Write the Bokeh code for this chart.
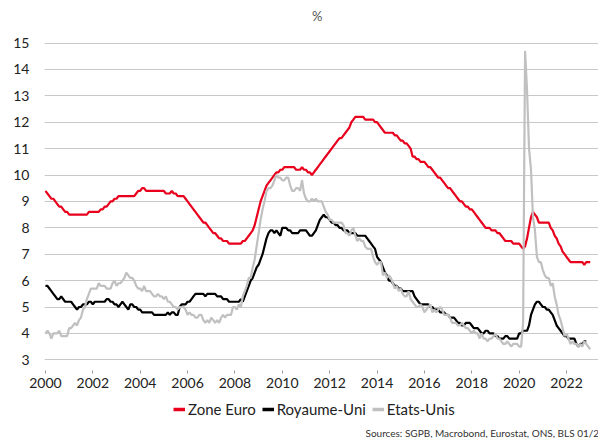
from bokeh.plotting import figure
from bokeh.layouts import column
from bokeh.models import Range1d, FixedTicker, Label, Legend, LegendItem
from bokeh.embed import file_html
from bokeh.resources import INLINE

start_year = 2000

# Unemployment rate, % (monthly, from Jan 2000)
zone_euro = [
    9.4, 9.3, 9.2, 9.1, 9.1, 9.0, 8.9, 8.8, 8.8, 8.7, 8.6, 8.6,        # 2000
    8.5, 8.5, 8.5, 8.5, 8.5, 8.5, 8.5, 8.5, 8.5, 8.5, 8.6, 8.6,        # 2001
    8.6, 8.6, 8.6, 8.6, 8.7, 8.7, 8.8, 8.8, 8.9, 9.0, 9.0, 9.1,        # 2002
    9.1, 9.2, 9.2, 9.2, 9.2, 9.2, 9.2, 9.2, 9.2, 9.2, 9.3, 9.4,        # 2003
    9.4, 9.5, 9.5, 9.4, 9.4, 9.4, 9.4, 9.4, 9.4, 9.4, 9.4, 9.4,        # 2004
    9.4, 9.3, 9.3, 9.3, 9.4, 9.3, 9.3, 9.2, 9.2, 9.2, 9.2, 9.1,        # 2005
    9.0, 8.9, 8.8, 8.7, 8.6, 8.5, 8.4, 8.3, 8.2, 8.2, 8.1, 8.0,        # 2006
    7.9, 7.8, 7.8, 7.7, 7.6, 7.6, 7.5, 7.5, 7.5, 7.4, 7.4, 7.4,        # 2007
    7.4, 7.4, 7.4, 7.4, 7.5, 7.5, 7.6, 7.7, 7.8, 7.9, 8.1, 8.4,        # 2008
    8.7, 9.0, 9.2, 9.4, 9.6, 9.7, 9.8, 9.9, 10.0, 10.1, 10.1, 10.2,    # 2009
    10.2, 10.3, 10.3, 10.3, 10.3, 10.3, 10.3, 10.2, 10.2, 10.2, 10.3, 10.2,  # 2010
    10.2, 10.1, 10.1, 10.0, 10.1, 10.2, 10.3, 10.4, 10.5, 10.6, 10.7, 10.8,  # 2011
    10.9, 11.0, 11.1, 11.2, 11.3, 11.4, 11.4, 11.5, 11.6, 11.7, 11.8, 12.0,  # 2012
    12.1, 12.2, 12.2, 12.2, 12.2, 12.2, 12.1, 12.1, 12.1, 12.1, 12.1, 12.0,  # 2013
    12.0, 11.9, 11.8, 11.7, 11.6, 11.6, 11.6, 11.6, 11.6, 11.5, 11.5, 11.4,  # 2014
    11.3, 11.3, 11.2, 11.2, 11.1, 11.0, 10.7, 10.7, 10.6, 10.6, 10.5, 10.5,  # 2015
    10.5, 10.4, 10.3, 10.3, 10.2, 10.1, 10.0, 9.9, 9.9, 9.8, 9.7, 9.6,  # 2016
    9.5, 9.5, 9.4, 9.3, 9.2, 9.1, 9.0, 9.0, 8.9, 8.8, 8.8, 8.7,        # 2017
    8.7, 8.6, 8.5, 8.4, 8.3, 8.2, 8.1, 8.0, 8.0, 8.0, 7.9, 7.9,        # 2018
    7.9, 7.8, 7.8, 7.7, 7.6, 7.5, 7.5, 7.5, 7.5, 7.4, 7.4, 7.4,        # 2019
    7.4, 7.3, 7.2, 7.3, 7.6, 8.0, 8.4, 8.6, 8.5, 8.4, 8.2, 8.2,        # 2020
    8.2, 8.2, 8.2, 8.2, 8.0, 7.9, 7.7, 7.6, 7.4, 7.3, 7.1, 7.0,        # 2021
    6.9, 6.8, 6.7, 6.7, 6.7, 6.7, 6.7, 6.7, 6.7, 6.6, 6.7, 6.7,        # 2022
    6.7,                                                              # 2023
]

royaume_uni = [
    5.8, 5.8, 5.7, 5.6, 5.5, 5.4, 5.3, 5.3, 5.4, 5.3, 5.2, 5.2,        # 2000
    5.2, 5.2, 5.1, 5.0, 4.9, 5.0, 5.0, 5.1, 5.1, 5.1, 5.2, 5.2,        # 2001
    5.1, 5.2, 5.2, 5.2, 5.2, 5.2, 5.2, 5.3, 5.3, 5.2, 5.2, 5.1,        # 2002
    5.1, 5.0, 5.1, 5.2, 5.1, 5.0, 4.9, 5.1, 5.1, 5.0, 5.0, 4.9,        # 2003
    4.9, 4.8, 4.8, 4.8, 4.8, 4.8, 4.8, 4.7, 4.7, 4.7, 4.7, 4.7,        # 2004
    4.7, 4.7, 4.8, 4.7, 4.8, 4.8, 4.7, 4.7, 5.0, 5.1, 5.1, 5.1,        # 2005
    5.2, 5.2, 5.3, 5.4, 5.5, 5.5, 5.5, 5.5, 5.5, 5.4, 5.5, 5.5,        # 2006
    5.5, 5.5, 5.5, 5.4, 5.4, 5.4, 5.3, 5.3, 5.3, 5.2, 5.2, 5.2,        # 2007
    5.2, 5.2, 5.2, 5.3, 5.2, 5.4, 5.6, 5.8, 6.0, 6.1, 6.3, 6.5,        # 2008
    6.6, 6.8, 7.0, 7.3, 7.6, 7.8, 7.9, 7.9, 7.8, 7.9, 7.8, 7.7,        # 2009
    8.0, 8.0, 8.0, 7.9, 7.9, 7.8, 7.8, 7.8, 7.8, 7.9, 7.9, 7.9,        # 2010
    7.9, 7.8, 7.7, 7.7, 7.8, 7.9, 8.1, 8.3, 8.4, 8.5, 8.4, 8.4,        # 2011
    8.3, 8.2, 8.2, 8.1, 8.1, 8.0, 8.0, 7.9, 7.9, 7.9, 7.8, 7.8,        # 2012
    7.8, 7.8, 7.7, 7.7, 7.7, 7.7, 7.7, 7.6, 7.5, 7.4, 7.3, 7.2,        # 2013
    6.9, 6.8, 6.7, 6.5, 6.3, 6.2, 6.0, 6.0, 5.9, 5.8, 5.8, 5.7,        # 2014
    5.7, 5.6, 5.6, 5.6, 5.6, 5.6, 5.6, 5.4, 5.3, 5.2, 5.1, 5.1,        # 2015
    5.1, 5.1, 5.1, 5.0, 5.0, 4.9, 4.9, 4.9, 4.8, 4.8, 4.8, 4.7,        # 2016
    4.7, 4.6, 4.6, 4.6, 4.5, 4.4, 4.4, 4.3, 4.3, 4.4, 4.4, 4.4,        # 2017
    4.3, 4.2, 4.2, 4.2, 4.1, 4.0, 4.0, 4.1, 4.1, 4.0, 4.0, 4.0,        # 2018
    3.9, 3.9, 3.8, 3.8, 3.8, 3.9, 3.9, 3.8, 3.8, 3.8, 3.8, 3.8,        # 2019
    4.0, 4.0, 4.1, 4.1, 4.1, 4.3, 4.7, 4.9, 5.1, 5.2, 5.2, 5.1,        # 2020
    5.0, 5.0, 4.9, 4.9, 4.8, 4.7, 4.5, 4.3, 4.2, 4.1, 4.0, 3.9,        # 2021
    3.9, 3.8, 3.8, 3.8, 3.8, 3.6, 3.5, 3.6, 3.6, 3.7, 3.7,             # 2022
]

etats_unis = [
    4.0, 4.1, 4.0, 3.8, 4.0, 4.0, 4.0, 4.1, 3.9, 3.9, 3.9, 3.9,        # 2000
    4.2, 4.2, 4.3, 4.4, 4.3, 4.5, 4.6, 4.9, 5.0, 5.3, 5.5, 5.7,        # 2001
    5.7, 5.7, 5.7, 5.9, 5.8, 5.8, 5.8, 5.7, 5.7, 5.7, 5.9, 6.0,        # 2002
    5.8, 5.9, 5.9, 6.0, 6.1, 6.3, 6.2, 6.1, 6.1, 6.0, 5.8, 5.7,        # 2003
    5.7, 5.6, 5.8, 5.6, 5.6, 5.6, 5.5, 5.4, 5.4, 5.5, 5.4, 5.4,        # 2004
    5.3, 5.4, 5.2, 5.2, 5.1, 5.0, 5.0, 4.9, 5.0, 5.0, 5.0, 4.9,        # 2005
    4.7, 4.8, 4.7, 4.7, 4.6, 4.6, 4.7, 4.7, 4.5, 4.4, 4.5, 4.4,        # 2006
    4.6, 4.5, 4.4, 4.5, 4.4, 4.6, 4.7, 4.6, 4.7, 4.7, 4.7, 5.0,        # 2007
    5.0, 4.9, 5.1, 5.0, 5.4, 5.6, 5.8, 6.1, 6.1, 6.5, 6.8, 7.3,        # 2008
    7.8, 8.3, 8.7, 9.0, 9.4, 9.5, 9.5, 9.6, 9.8, 10.0, 9.9, 9.9,       # 2009
    9.8, 9.8, 9.9, 9.9, 9.6, 9.4, 9.4, 9.5, 9.5, 9.4, 9.8, 9.3,        # 2010
    9.1, 9.0, 9.0, 9.1, 9.0, 9.1, 9.0, 9.0, 9.0, 8.8, 8.6, 8.5,        # 2011
    8.3, 8.3, 8.2, 8.2, 8.2, 8.2, 8.2, 8.1, 7.8, 7.8, 7.7, 7.9,        # 2012
    8.0, 7.7, 7.5, 7.6, 7.5, 7.5, 7.3, 7.2, 7.2, 7.2, 6.9, 6.7,        # 2013
    6.6, 6.7, 6.7, 6.2, 6.3, 6.1, 6.2, 6.1, 5.9, 5.7, 5.8, 5.6,        # 2014
    5.7, 5.5, 5.4, 5.4, 5.6, 5.3, 5.2, 5.1, 5.0, 5.0, 5.1, 5.0,        # 2015
    4.8, 4.9, 5.0, 5.1, 4.8, 4.9, 4.8, 4.9, 5.0, 4.9, 4.7, 4.7,        # 2016
    4.7, 4.6, 4.4, 4.4, 4.4, 4.3, 4.3, 4.4, 4.3, 4.2, 4.2, 4.1,        # 2017
    4.0, 4.1, 4.0, 4.0, 3.8, 4.0, 3.8, 3.8, 3.7, 3.8, 3.8, 3.9,        # 2018
    4.0, 3.8, 3.8, 3.7, 3.6, 3.6, 3.7, 3.6, 3.5, 3.6, 3.6, 3.6,        # 2019
    3.5, 3.5, 4.4, 14.7, 13.2, 11.0, 10.2, 8.4, 7.9, 6.9, 6.7, 6.7,    # 2020
    6.4, 6.2, 6.1, 6.1, 5.8, 5.9, 5.4, 5.1, 4.7, 4.5, 4.2, 3.9,        # 2021
    4.0, 3.8, 3.6, 3.7, 3.6, 3.6, 3.5, 3.6, 3.5, 3.7, 3.6, 3.5,        # 2022
    3.4,                                                              # 2023
]

series_names = ["Zone Euro", "Royaume-Uni", "Etats-Unis"]
y_ticks = list(range(3, 16))
x_ticks = list(range(2000, 2023, 2))
title_text = "%"
source_text = "Sources: SGPB, Macrobond, Eurostat, ONS, BLS 01/2023"


def months(values):
    return [start_year + i / 12.0 for i in range(len(values))]


FONT = "Lato"
RED = "#e8001c"
BLACK = "#000000"
GREY = "#c0c0c0"
colors = [RED, BLACK, GREY]

# ---------- main chart ----------
p = figure(frame_width=554, frame_height=370, output_backend="svg",
           toolbar_location=None,
           x_range=Range1d(1999.96, 2023.35), y_range=Range1d(2.595, 16.61),
           min_border_left=44, min_border_right=0, min_border_top=0,
           min_border_bottom=26)
p.outline_line_color = None
p.background_fill_color = "white"
p.border_fill_color = "white"

p.line(months(zone_euro), zone_euro, line_color=RED, line_width=2.2)
p.line(months(royaume_uni), royaume_uni, line_color=BLACK, line_width=2.2)
p.line(months(etats_unis), etats_unis, line_color=GREY, line_width=2.2)

p.xgrid.grid_line_color = None
p.ygrid.ticker = FixedTicker(ticks=y_ticks)
p.ygrid.grid_line_color = "#c8c8c8"
p.ygrid.grid_line_width = 1

p.yaxis.ticker = FixedTicker(ticks=y_ticks)
p.yaxis.axis_line_color = None
p.yaxis.major_tick_line_color = None
p.yaxis.minor_tick_line_color = None
p.yaxis.major_label_standoff = 9
p.yaxis.major_label_text_font = FONT
p.yaxis.major_label_text_font_size = "14px"
p.yaxis.major_label_text_color = "#222222"

p.xaxis.ticker = FixedTicker(ticks=x_ticks)
p.xaxis.axis_line_color = None
p.xaxis.major_tick_in = 0
p.xaxis.major_tick_out = 3
p.xaxis.major_tick_line_color = "#999999"
p.xaxis.minor_tick_line_color = None
p.xaxis.major_label_standoff = 4
p.xaxis.major_label_text_font = FONT
p.xaxis.major_label_text_font_size = "14px"
p.xaxis.major_label_text_color = "#222222"

p.add_layout(Label(x=2011.47, y=16.015, text=title_text, text_align="center",
                   text_baseline="middle", text_font=FONT, text_font_size="13px",
                   text_color="#555555"))

# ---------- legend + sources strip ----------
p2 = figure(frame_width=598, frame_height=42, output_backend="svg",
            toolbar_location=None,
            x_range=Range1d(0, 598), y_range=Range1d(0, 42),
            x_axis_type=None, y_axis_type=None, min_border=0)
p2.outline_line_color = None
p2.grid.visible = False
p2.background_fill_color = "white"
p2.border_fill_color = "white"

items = []
for name, col in zip(series_names, colors):
    r = p2.line([-20, -10], [-20, -20], line_color=col, line_width=3.5)
    items.append(LegendItem(label=name, renderers=[r]))

legend = Legend(items=items, orientation="horizontal", location=(173, 20),
                label_text_font=FONT, label_text_font_size="15px",
                label_text_color="#222222",
                glyph_width=12, glyph_height=16, label_standoff=3, spacing=6,
                padding=0, margin=0, border_line_color=None,
                background_fill_alpha=0)
p2.add_layout(legend, "center")

p2.add_layout(Label(x=321, y=6, text=source_text, text_align="left",
                    text_baseline="middle", text_font=FONT, text_font_size="10px",
                    text_color="#333333"))

open("out.html", "w").write(file_html(column(p, p2), INLINE))
